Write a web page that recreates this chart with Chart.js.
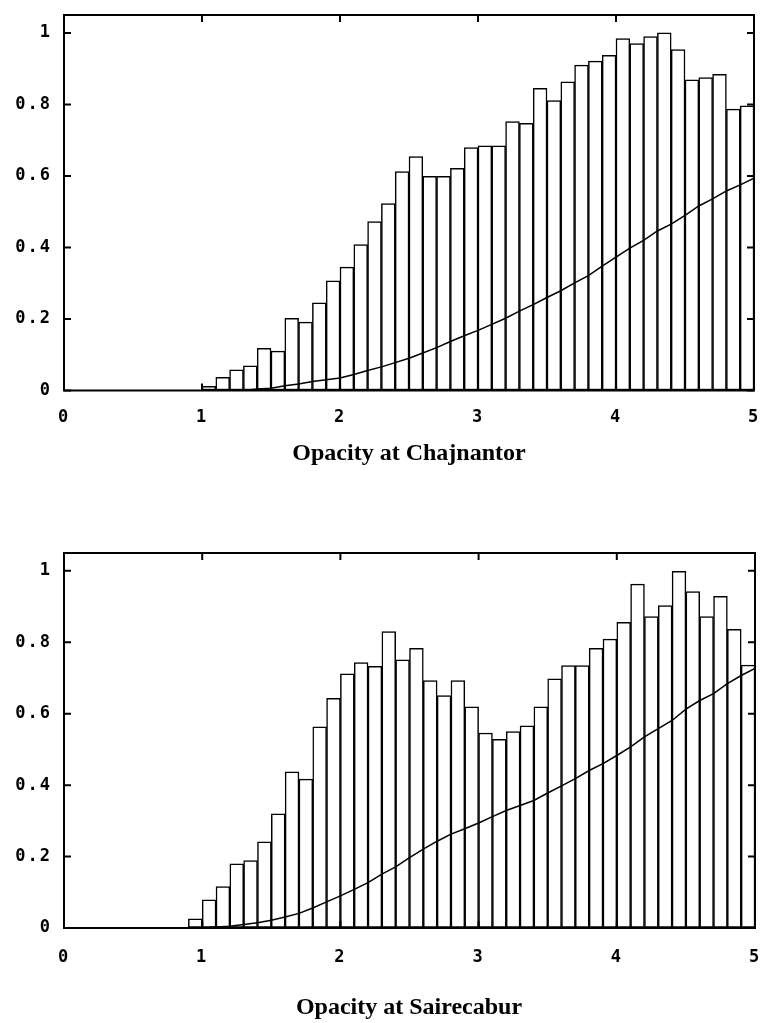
<!DOCTYPE html>
<html>
<head>
<meta charset="utf-8">
<script src="https://cdn.jsdelivr.net/npm/chart.js@4/dist/chart.umd.min.js"></script>
<style>
  html, body { margin: 0; padding: 0; background: #fff; }
  body { width: 763px; height: 1023px; position: relative; overflow: hidden; }
  .wrap { position: absolute; left: 0; width: 763px; }
  #w1 { top: 0; height: 480px; }
  #w2 { top: 500px; height: 523px; }
  .ttl { position: absolute; left: 0; width: 818px; text-align: center;
         font-family: 'Liberation Serif', 'DejaVu Serif', serif; font-weight: bold;
         font-size: 24px; line-height: 24px; color: #000; white-space: nowrap; }
  #t1 { top: 440px; }
  #t2 { top: 994px; }
</style>
</head>
<body>
<div class="wrap" id="w1"><canvas id="c1" width="763" height="480"></canvas></div>
<div class="wrap" id="w2"><canvas id="c2" width="763" height="523"></canvas></div>
<div class="ttl" id="t1"></div>
<div class="ttl" id="t2"></div>
<script>
// ---------- data ----------
const titleTop = "Opacity at Chajnantor";
const titleBottom = "Opacity at Sairecabur";
const xTickLabels = ["0", "1", "2", "3", "4", "5"];
const yTickValues = [0, 0.2, 0.4, 0.6, 0.8, 1];

// bin centres (bin width 0.1)
const binsTop = [1.05,1.15,1.25,1.35,1.45,1.55,1.65,1.75,1.85,1.95,
                 2.05,2.15,2.25,2.35,2.45,2.55,2.65,2.75,2.85,2.95,
                 3.05,3.15,3.25,3.35,3.45,3.55,3.65,3.75,3.85,3.95,
                 4.05,4.15,4.25,4.35,4.45,4.55,4.65,4.75,4.85,4.95];
const barsTop = [0.012,0.037,0.058,0.069,0.118,0.110,0.202,0.191,0.245,0.307,
                 0.345,0.408,0.472,0.523,0.612,0.654,0.599,0.599,0.621,0.679,
                 0.684,0.684,0.752,0.747,0.845,0.811,0.863,0.910,0.921,0.937,
                 0.984,0.970,0.990,1.000,0.953,0.869,0.875,0.884,0.787,0.796];

const binsBottom = [0.95,1.05,1.15,1.25,1.35,1.45,1.55,1.65,1.75,1.85,1.95,
                    2.05,2.15,2.25,2.35,2.45,2.55,2.65,2.75,2.85,2.95,
                    3.05,3.15,3.25,3.35,3.45,3.55,3.65,3.75,3.85,3.95,
                    4.05,4.15,4.25,4.35,4.45,4.55,4.65,4.75,4.85,4.95];
const barsBottom = [0.026,0.079,0.116,0.180,0.189,0.241,0.320,0.437,0.417,0.563,0.643,
                    0.712,0.743,0.733,0.830,0.751,0.783,0.693,0.651,0.693,0.619,
                    0.546,0.528,0.550,0.566,0.619,0.698,0.735,0.735,0.783,0.809,
                    0.856,0.963,0.872,0.903,0.999,0.942,0.872,0.929,0.836,0.736];

const lineXTop = [1.35,1.4,1.5,1.6,1.7,1.8,1.9,2.0,2.1,2.2,2.3,2.4,2.5,2.6,2.7,2.8,2.9,
                  3.0,3.1,3.2,3.3,3.4,3.5,3.6,3.7,3.8,3.9,4.0,4.1,4.2,4.3,4.4,4.5,4.6,4.7,4.8,4.9,5.0];
const lineYTop = [0.002,0.004,0.006,0.013,0.018,0.025,0.030,0.035,0.045,0.056,0.066,0.078,0.090,0.105,0.120,0.137,0.153,
                  0.168,0.185,0.202,0.222,0.240,0.260,0.279,0.301,0.321,0.348,0.373,0.398,0.420,0.446,0.465,0.490,0.516,0.536,0.558,0.575,0.594];

const lineXBottom = [1.05,1.1,1.2,1.3,1.4,1.5,1.6,1.7,1.8,1.9,2.0,2.1,2.2,2.3,2.4,2.5,2.6,2.7,2.8,2.9,
                     3.0,3.1,3.2,3.3,3.4,3.5,3.6,3.7,3.8,3.9,4.0,4.1,4.2,4.3,4.4,4.5,4.6,4.7,4.8,4.9,5.0];
const lineYBottom = [0.002,0.003,0.005,0.010,0.015,0.022,0.031,0.041,0.056,0.073,0.090,0.108,0.127,0.151,0.171,0.197,0.221,0.243,0.263,0.278,
                     0.294,0.312,0.329,0.343,0.357,0.378,0.398,0.418,0.441,0.460,0.483,0.507,0.535,0.558,0.581,0.613,0.637,0.656,0.684,0.707,0.727];

document.getElementById('t1').textContent = titleTop;
document.getElementById('t2').textContent = titleBottom;

// ---------- drawing ----------
const tickFont = { family: "'DejaVu Sans Mono', 'Liberation Mono', monospace", size: 17, weight: 'bold' };

const framePlugin = {
  id: 'frame',
  beforeDraw(chart) { chart.ctx.letterSpacing = '2px'; },
  beforeDatasetsDraw(chart) { chart.ctx.letterSpacing = '0px'; },
  afterDatasetsDraw(chart) {
    const { ctx, chartArea: a, scales: { x, y } } = chart;
    ctx.save();
    ctx.strokeStyle = '#000';
    ctx.lineWidth = 2;
    ctx.strokeRect(a.left, a.top, a.right - a.left, a.bottom - a.top);
    const L = 7;
    ctx.beginPath();
    xTickLabels.forEach(t => {
      const px = x.getPixelForValue(Number(t));
      ctx.moveTo(px, a.top); ctx.lineTo(px, a.top + L);
      ctx.moveTo(px, a.bottom); ctx.lineTo(px, a.bottom - L);
    });
    yTickValues.forEach(v => {
      const py = y.getPixelForValue(v);
      ctx.moveTo(a.left, py); ctx.lineTo(a.left + L, py);
      ctx.moveTo(a.right, py); ctx.lineTo(a.right - L, py);
    });
    ctx.stroke();
    ctx.restore();
  }
};

const hiddenGrid = tl => ({ display: true, drawOnChartArea: false, drawTicks: true,
                            tickLength: tl, color: 'rgba(0,0,0,0)', offset: false });

function makeChart(id, bins, bars, lx, ly, padTop, padRight, areaBottom, canvasH, xTickLen) {
  const barData = bins.map((b, i) => ({ x: b, y: bars[i] }));
  const lineData = lx.map((v, i) => ({ x: v, y: ly[i] }));
  return new Chart(document.getElementById(id), {
    type: 'bar',
    data: {
      datasets: [
        {
          type: 'line', data: lineData, borderColor: '#000', borderWidth: 1.5,
          pointRadius: 0, fill: false, tension: 0, order: 0
        },
        {
          type: 'bar', data: barData, backgroundColor: '#fff', borderColor: '#000',
          borderWidth: 1.5, borderSkipped: false, barPercentage: 1, categoryPercentage: 1,
          grouped: false, order: 1
        }
      ]
    },
    options: {
      responsive: false, animation: false, events: [],
      layout: { padding: { top: padTop, right: padRight, left: 0, bottom: 0 } },
      plugins: { legend: { display: false }, tooltip: { enabled: false } },
      scales: {
        x: {
          type: 'linear', min: 0, max: 5, offset: false,
          grid: hiddenGrid(xTickLen),
          border: { display: false },
          afterBuildTicks: s => { s.ticks = xTickLabels.map(t => ({ value: Number(t) })); },
          afterFit: s => { s.height = canvasH - areaBottom; },
          ticks: { color: '#000', font: tickFont, padding: 0, maxRotation: 0,
                   callback: v => String(v) }
        },
        y: {
          type: 'linear', min: 0, max: 1.05,
          grid: hiddenGrid(12),
          border: { display: false },
          afterBuildTicks: s => { s.ticks = yTickValues.map(v => ({ value: v })); },
          afterFit: s => { s.width = 64; },
          ticks: { color: '#000', font: tickFont, padding: 0,
                   callback: v => (v === 0 ? '0' : v === 1 ? '1' : v.toFixed(1)) }
        }
      }
    },
    plugins: [framePlugin]
  });
}

makeChart('c1', binsTop, barsTop, lineXTop, lineYTop, 15, 9, 390.5, 480, 17);
makeChart('c2', binsBottom, barsBottom, lineXBottom, lineYBottom, 53, 8, 428, 523, 19);
</script>
</body>
</html>
